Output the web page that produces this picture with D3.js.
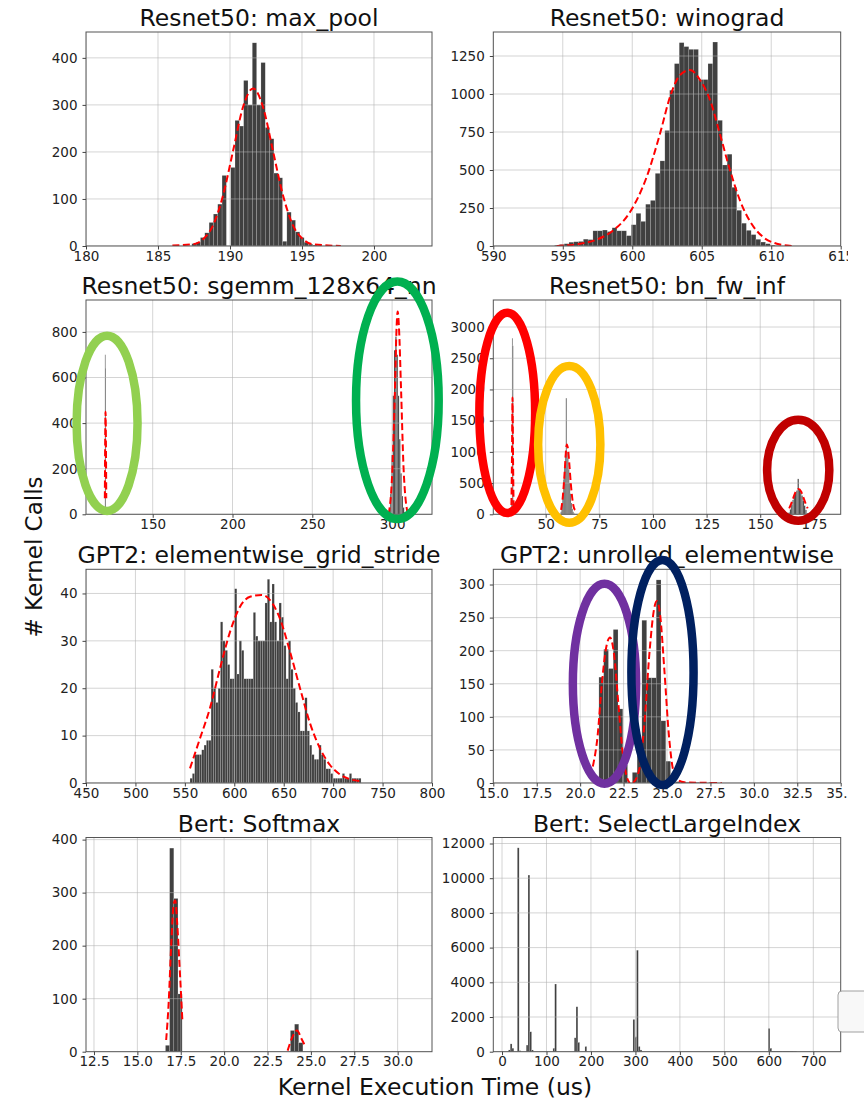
<!DOCTYPE html>
<html>
<head>
<meta charset="utf-8">
<script src="https://cdn.jsdelivr.net/npm/d3@7"></script>
<style>
  body { margin: 0; background: #fff; }
  svg text { font-family: "DejaVu Sans", sans-serif; }
</style>
</head>
<body>
<script>
// ---- values ----

const titles = [
  "Resnet50: max_pool", "Resnet50: winograd",
  "Resnet50: sgemm_128x64_nn", "Resnet50: bn_fw_inf",
  "GPT2: elementwise_grid_stride", "GPT2: unrolled_elementwise",
  "Bert: Softmax", "Bert: SelectLargeIndex"
];

// histogram runs: [first bin start, bin width, counts]
const maxPoolBins = [[187.35, 0.3, [5, 8, 18, 28, 50, 68, 89, 150, 0, 167, 267, 255, 352, 300, 432, 300, 390, 252, 228, 155, 145, 10, 72, 55, 30, 18, 8, 4, 2]]];
const winogradBins = [[594.41, 0.345, [5, 10, 15, 25, 28, 30, 45, 42, 100, 100, 105, 95, 120, 100, 100, 68,
  140, 215, 162, 275, 300, 478, 560, 760, 1025, 1200, 1338, 1312, 1294, 1294, 1095, 1095, 1200, 1342,
  827, 533, 604, 386, 235, 150, 103, 75, 44, 26, 15, 6, 2, 1]]];
const sgemmBins = [
  [120.05, 0.3, [700, 640]],
  [298.0, 0.8, [20, 90, 260, 520, 720, 780, 700, 520, 330, 180, 80, 30, 10, 5]]
];
const bnBins = [
  [33.7, 0.3, [60, 150, 2820, 2700, 200, 80]],
  [57.0, 0.4, [40, 150, 330, 560, 780, 950, 1860, 1000, 900, 720, 500, 330, 180, 90, 40, 15]],
  [163.2, 0.6, [30, 80, 150, 230, 300, 350, 380, 567, 390, 360, 300, 220, 140, 70, 20]]
];
const gridStrideBins = [[555.2, 2.37, [1, 2, 6, 6, 6, 7, 8, 9, 9, 24, 20, 17, 20, 34, 30, 28, 25, 22, 22, 41,
  23, 30, 28, 22, 22, 22, 22, 36, 31, 30, 30, 30, 38, 43, 34, 42, 34, 30, 38, 35,
  29, 22, 30, 24, 20, 17, 15, 11, 11, 18, 11, 8, 6, 5, 5, 8, 6, 5, 3, 3,
  2, 1, 1, 1, 1, 2, 1, 1, 2, 1, 1, 1, 1]]];
const unrolledBins = [[21.08, 0.275, [160, 202, 173, 232, 112, 27, 0, 16, 60, 246, 159, 159, 307, 94, 33, 5, 2, 1, 1, 0, 1, 0, 0, 1]]];
const softmaxBins = [
  [16.62, 0.24, [12, 384, 289, 109]],
  [23.82, 0.24, [40, 52, 17]]
];
const selectBins = [
  [14.5, 4, [100, 450, 200]],
  [34.5, 4, [11750, 60]],
  [54.5, 4, [380, 10180, 1150, 100]],
  [114.5, 4, [200, 3900]],
  [162.5, 4, [800, 2590, 540]],
  [186.5, 4, [300]],
  [294.5, 4, [1860, 860, 5850, 300, 100]],
  [598.5, 4, [1340, 200]],
  [606.5, 8, [40, 40, 40, 40, 40, 40, 30]]
];

// red dashed fits, as [x, count] points
const maxPoolFit = [[[186.0, 1], [187.46, 4], [188.15, 15], [188.84, 45], [189.53, 109], [190.22, 203], [190.91, 296],
  [191.6, 335], [192.29, 296], [192.98, 203], [193.67, 109], [194.36, 45], [195.05, 15], [195.74, 4], [197.7, 0]]];
const winogradFit = [[[594.56, 0], [596.24, 15], [597.44, 42], [598.64, 103], [599.84, 224], [601.04, 455], [602.0, 740],
  [602.72, 982], [603.44, 1125], [604.16, 1158], [604.88, 1092], [605.6, 960], [606.3, 740], [607.0, 510],
  [607.75, 300], [608.5, 158], [609.4, 60], [610.4, 15], [611.5, 0]]];
const sgemmFit = [
  [[120.0, 70], [120.45, 450], [120.9, 70]],
  [[297.9, 0], [300.2, 200], [301.8, 550], [302.8, 820], [303.5, 890], [304.3, 820], [305.6, 550], [307.2, 200], [309.8, 0]]
];
const bnFit = [
  [[34.05, 150], [34.3, 900], [34.55, 1870], [34.8, 900], [35.05, 150]],
  [[57.2, 70], [58.0, 280], [58.8, 650], [59.4, 980], [59.85, 1120], [60.4, 1050], [61.0, 820], [61.7, 500], [62.5, 230], [63.2, 100], [63.7, 70]],
  [[163.5, 96], [164.5, 175], [165.5, 270], [166.5, 360], [167.8, 405], [169.1, 360], [170.1, 270], [171.1, 175], [172.1, 96]]
];
const gridStrideFit = [[[555.2, 3.1], [565.3, 9.4], [575.4, 15.8], [585.6, 24.2], [595.7, 31.9], [605.8, 37.2], [615.9, 39.3],
  [627.7, 39.7], [636.1, 38.6], [646.2, 34.7], [656.4, 27.7], [666.5, 20], [676.6, 12.6], [686.7, 7.3],
  [696.8, 3.8], [706.9, 1.8], [717.1, 0.8], [726.5, 0.4]]];
const unrolledFit = [
  [[20.73, 25], [21.0, 70], [21.25, 150], [21.5, 205], [21.72, 220], [21.95, 195], [22.2, 120], [22.45, 45], [22.7, 8], [22.85, 0]],
  [[23.05, 0], [23.4, 20], [23.7, 90], [24.0, 200], [24.25, 262], [24.42, 275], [24.6, 255], [24.85, 170], [25.1, 75],
   [25.35, 20], [25.6, 5], [26.0, 1], [28.15, 0]]
];
const softmaxFit = [
  [[16.66, 22], [16.8, 90], [16.95, 200], [17.1, 280], [17.18, 285], [17.3, 240], [17.45, 150], [17.6, 55]],
  [[23.66, 2], [23.9, 25], [24.2, 40], [24.45, 25], [24.62, 14]]
];
const selectFit = [];

// tick values
const maxPoolXTicks = [180, 185, 190, 195, 200], maxPoolYTicks = [0, 100, 200, 300, 400];
const winogradXTicks = [590, 595, 600, 605, 610, 615], winogradYTicks = [0, 250, 500, 750, 1000, 1250];
const sgemmXTicks = [150, 200, 250, 300], sgemmYTicks = [0, 200, 400, 600, 800];
const bnXTicks = [50, 75, 100, 125, 150, 175], bnYTicks = [0, 500, 1000, 1500, 2000, 2500, 3000];
const gridStrideXTicks = [450, 500, 550, 600, 650, 700, 750, 800], gridStrideYTicks = [0, 10, 20, 30, 40];
const unrolledXTicks = [15, 17.5, 20, 22.5, 25, 27.5, 30, 32.5, 35], unrolledYTicks = [0, 50, 100, 150, 200, 250, 300];
const softmaxXTicks = [12.5, 15, 17.5, 20, 22.5, 25, 27.5, 30], softmaxYTicks = [0, 100, 200, 300, 400];
const selectXTicks = [0, 100, 200, 300, 400, 500, 600, 700], selectYTicks = [0, 2000, 4000, 6000, 8000, 10000, 12000];

// hand-drawn rings, in data units: [panel, cx, cy, rx, ry, colour]
const rings = [
  [2, 121.4, 399, 19.1, 384, "#92d050"],
  [2, 303.3, 500, 25.9, 521, "#00b050"],
  [3, 32.1, 1625, 13.0, 1604, "#ff0000"],
  [3, 61.0, 1120, 14.5, 1256, "#ffc000"],
  [3, 167.7, 706, 14.5, 810, "#c00000"],
  [5, 21.4, 150, 1.82, 151, "#7030a0"],
  [5, 24.74, 167, 1.79, 170, "#002060"]
];

const panels = [
  { bins: maxPoolBins, fit: maxPoolFit, xd: [180, 204.03], yd: [0, 455], xt: maxPoolXTicks, yt: maxPoolYTicks, fx: "d" },
  { bins: winogradBins, fit: winogradFit, xd: [590, 615], yd: [0, 1408], xt: winogradXTicks, yt: winogradYTicks, fx: "d" },
  { bins: sgemmBins, fit: sgemmFit, xd: [108.2, 325], yd: [0, 940], xt: sgemmXTicks, yt: sgemmYTicks, fx: "d" },
  { bins: bnBins, fit: bnFit, xd: [25.6, 187.5], yd: [0, 3433], xt: bnXTicks, yt: bnYTicks, fx: "d" },
  { bins: gridStrideBins, fit: gridStrideFit, xd: [450, 800], yd: [0, 45.1], xt: gridStrideXTicks, yt: gridStrideYTicks, fx: "d" },
  { bins: unrolledBins, fit: unrolledFit, xd: [15, 35], yd: [0, 323], xt: unrolledXTicks, yt: unrolledYTicks, fx: ".1f" },
  { bins: softmaxBins, fit: softmaxFit, xd: [12.04, 31.98], yd: [0, 404], xt: softmaxXTicks, yt: softmaxYTicks, fx: ".1f" },
  { bins: selectBins, fit: selectFit, xd: [-19.6, 761.6], yd: [0, 12346], xt: selectXTicks, yt: selectYTicks, fx: "d" }
];

// ---- layout ----
const W = 864, H = 1102;
const cols = [[86, 432], [493.3, 840.7]];
const rows = [[32, 246], [300, 514.3], [569.3, 783], [837.5, 1051.7]];

const svg = d3.select("body").append("svg")
  .attr("width", W).attr("height", H);

const defs = svg.append("defs");
const root = svg.append("g");

panels.forEach((p, i) => {
  const [x0, x1] = cols[i % 2];
  const [y0, y1] = rows[Math.floor(i / 2)];
  const x = d3.scaleLinear().domain(p.xd).range([x0, x1]);
  const y = d3.scaleLinear().domain(p.yd).range([y1, y0]);
  p.x = x; p.y = y;

  defs.append("clipPath").attr("id", "clip" + i)
    .append("rect").attr("x", x0).attr("y", y0).attr("width", x1 - x0).attr("height", y1 - y0);

  const g = root.append("g");
  const plot = g.append("g").attr("clip-path", `url(#clip${i})`);

  // bars
  const bars = [];
  p.bins.forEach(([start, w, counts]) => {
    counts.forEach((c, k) => { if (c > 0) bars.push({ a: start + k * w, b: start + (k + 1) * w, c }); });
  });
  plot.selectAll("rect.bar").data(bars).enter().append("rect")
    .attr("class", "bar")
    .attr("x", d => x(d.a))
    .attr("width", d => Math.max(0.6, x(d.b) - x(d.a)))
    .attr("y", d => y(d.c))
    .attr("height", d => y(0) - y(d.c))
    .attr("fill", "#404040")
    .attr("stroke", "rgba(255,255,255,0.3)")
    .attr("stroke-width", 0.5);

  // grid, drawn over the bars
  plot.selectAll("line.gx").data(p.xt).enter().append("line")
    .attr("x1", d => x(d)).attr("x2", d => x(d)).attr("y1", y0).attr("y2", y1)
    .attr("stroke", "#b0b0b0").attr("stroke-opacity", 0.55).attr("stroke-width", 1);
  plot.selectAll("line.gy").data(p.yt).enter().append("line")
    .attr("y1", d => y(d)).attr("y2", d => y(d)).attr("x1", x0).attr("x2", x1)
    .attr("stroke", "#b0b0b0").attr("stroke-opacity", 0.55).attr("stroke-width", 1);

  // fitted curves
  const line = d3.line().x(d => x(d[0])).y(d => y(d[1])).curve(d3.curveMonotoneX);
  plot.selectAll("path.fit").data(p.fit).enter().append("path")
    .attr("d", line)
    .attr("fill", "none").attr("stroke", "#ff0000")
    .attr("stroke-width", 2).attr("stroke-dasharray", "7,3.5");

  // frame
  g.append("rect").attr("x", x0).attr("y", y0).attr("width", x1 - x0).attr("height", y1 - y0)
    .attr("fill", "none").attr("stroke", "#555").attr("stroke-width", 1);

  // axes
  const fmt = d3.format(p.fx);
  g.append("g").attr("transform", `translate(0,${y1})`)
    .call(d3.axisBottom(x).tickValues(p.xt).tickFormat(fmt).tickSize(3.5).tickPadding(1.5).tickSizeOuter(0))
    .call(a => a.select(".domain").remove())
    .attr("font-size", 13.5).attr("font-family", null)
    .call(a => a.selectAll("line").attr("stroke", "#444"))
    .call(a => a.selectAll("text").attr("fill", "#222"));
  g.append("g").attr("transform", `translate(${x0},0)`)
    .call(d3.axisLeft(y).tickValues(p.yt).tickFormat(d3.format("d")).tickSize(3.5).tickPadding(5).tickSizeOuter(0))
    .call(a => a.select(".domain").remove())
    .attr("font-size", 13.5).attr("font-family", null)
    .call(a => a.selectAll("line").attr("stroke", "#444"))
    .call(a => a.selectAll("text").attr("fill", "#222"));

  // title
  g.append("text")
    .attr("x", (x0 + x1) / 2).attr("y", y0 - 6)
    .attr("text-anchor", "middle").attr("font-size", 23.5).attr("fill", "#111")
    .text(titles[i]);
});

// axis labels for the whole figure
svg.append("text")
  .attr("x", 435).attr("y", 1095)
  .attr("text-anchor", "middle").attr("font-size", 23.5).attr("fill", "#111")
  .text("Kernel Execution Time (us)");
svg.append("text")
  .attr("transform", "translate(42,557) rotate(-90)")
  .attr("text-anchor", "middle").attr("font-size", 23).attr("fill", "#111")
  .text("# Kernel Calls");

// rings drawn over everything
svg.append("g").selectAll("ellipse").data(rings).enter().append("ellipse")
  .attr("cx", d => panels[d[0]].x(d[1]))
  .attr("cy", d => panels[d[0]].y(d[2]))
  .attr("rx", d => panels[d[0]].x(d[1] + d[3]) - panels[d[0]].x(d[1]))
  .attr("ry", d => panels[d[0]].y(0) - panels[d[0]].y(d[4]))
  .attr("fill", "none")
  .attr("stroke", d => d[5])
  .attr("stroke-width", 8.5);

// the picture is cut off on the right
svg.append("rect").attr("x", 848).attr("y", 0).attr("width", W - 848).attr("height", H).attr("fill", "#fff");

// stray callout box at the right edge
svg.append("path")
  .attr("d", "M 870 991 L 842 991 Q 838 991 838 995 L 838 1028 Q 838 1032 842 1032 L 870 1032")
  .attr("fill", "#f8f8f8").attr("stroke", "#a0a0a0").attr("stroke-width", 1);
</script>
</body>
</html>
